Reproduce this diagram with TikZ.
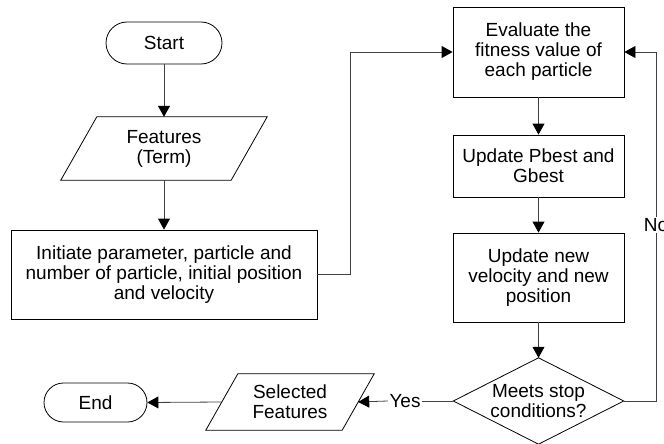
\documentclass[tikz,border=0pt]{standalone}
\usepackage{fontspec}
\setmainfont{Liberation Sans}
\usetikzlibrary{arrows.meta,calc}

\begin{document}
\begin{tikzpicture}[x=1pt,y=-1pt,
  txt/.style={font=\fontsize{19}{20}\selectfont, align=center, inner sep=0pt},
  procbox/.style={txt, draw=black, line width=0.8pt, minimum width=171pt},
  terminal/.style={txt, draw=black, line width=0.8pt},
  plain/.style={txt},
  conn/.style={draw=black!75, line width=0.8pt, -{Triangle[length=11pt,width=12pt,color=black]}},
  link/.style={draw=black!75, line width=0.8pt},
  lbl/.style={txt, fill=white, inner xsep=1.5pt, inner ysep=1pt}
]
\useasboundingbox (0,0) rectangle (664,444);

% terminals
\node[terminal, minimum width=116pt, minimum height=42pt, rounded corners=21pt] (start) at (164,43) {Start};
\node[terminal, minimum width=103pt, minimum height=39pt, rounded corners=19.5pt] (end) at (95.5,402.5) {End};

% input / output parallelograms (node box spans the mid-height width)
\node[plain, minimum width=170pt, minimum height=63pt] (feat) at (164,148.5) {Features\\(Term)};
\draw[line width=0.8pt] ($(feat.north west)+(18,0)$) -- ($(feat.north east)+(18,0)$)
  -- ($(feat.south east)+(-18,0)$) -- ($(feat.south west)+(-18,0)$) -- cycle;

\node[plain, minimum width=136pt, minimum height=56pt] (sel) at (290,402) {Selected\\Features};
\draw[line width=0.8pt] ($(sel.north west)+(16,0)$) -- ($(sel.north east)+(16,0)$)
  -- ($(sel.south east)+(-16,0)$) -- ($(sel.south west)+(-16,0)$) -- cycle;

% process boxes
\node[procbox, minimum width=306pt, minimum height=89pt] (init) at (164,274.5)
  {Initiate parameter, particle and\\number of particle, initial position\\and velocity};
\node[procbox, minimum height=90pt] (eval) at (538.5,52) {Evaluate the\\fitness value of\\each particle};
\node[procbox, minimum height=62pt] (best) at (538.5,166) {Update Pbest and\\Gbest};
\node[procbox, minimum height=89pt] (vel) at (538.5,277.5) {Update new\\velocity and new\\position};

% decision
\node[plain, minimum width=170pt, minimum height=86pt] (stop) at (538.5,401) {Meets stop\\conditions?};
\draw[line width=0.8pt] (stop.north) -- (stop.east) -- (stop.south) -- (stop.west) -- cycle;

% connectors
\draw[conn] (start) -- (feat);
\draw[conn] (feat.south) -- (init.north);
\draw[conn] (init.east) -- (350,274.5) |- (eval.west);
\draw[conn] (eval) -- (best);
\draw[conn] (best) -- (vel);
\draw[conn] (vel.south) -- (stop.north);
\coordinate (nocorner) at (656,401);
\draw[conn] (stop.east) -- (nocorner) |- (eval.east);
\node[lbl] (no) at (656,225) {No};
\draw[link] (stop.west) -- (422,401);
\node[lbl] (yes) at (405,401) {Yes};
\draw[conn] (yes.west) -- (sel.east);
\draw[conn] (sel.west) -- (end.east);
\end{tikzpicture}
\end{document}
